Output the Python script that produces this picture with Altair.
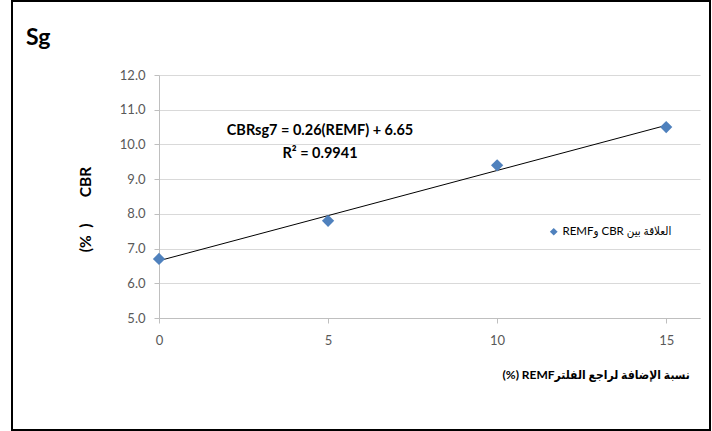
import altair as alt
import pandas as pd

# data
remf = [0, 5, 10, 15]
cbr = [6.7, 7.8, 9.4, 10.5]
series_name = "\u202bالعلاقة بين CBR وREMF\u202c"
y_ticks = [5, 6, 7, 8, 9, 10, 11, 12]
x_ticks = [0, 5, 10, 15]
equation = "CBRsg7 = 0.26(REMF) + 6.65"
r2_text = "R² = 0.9941"
chart_title = "Sg"
x_title = "\u202bنسبة الإضافة لراجع الفلترREMF (%)\u202c"
y_title = "(%\u00a0\u00a0)" + "\u00a0" * 7 + "CBR"

df = pd.DataFrame({"REMF": remf, "CBR": cbr, "series": [series_name] * len(remf)})

FONT = "Lato, DejaVu Sans, sans-serif"
AR_FONT = "Lato, DejaVu Sans Condensed, DejaVu Sans, sans-serif"
W, H = 541, 243

x_scale = alt.Scale(domain=[0, 16], nice=False, zero=False)
y_scale = alt.Scale(domain=[5, 12], nice=False, zero=False)

x_enc = alt.X(
    "REMF:Q",
    scale=x_scale,
    axis=alt.Axis(
        values=x_ticks, grid=False, title=x_title, tickSize=5, labelPadding=11,
        labelFlush=False, labelOverlap=False,
        titleX=343, titleY=56, titleAlign="left", titleBaseline="middle",
        titleAnchor="start", titleFontSize=12, titleFontWeight="bold",
        titleColor="#000000", titleFont=AR_FONT,
    ),
)
y_enc = alt.Y(
    "CBR:Q",
    scale=y_scale,
    axis=alt.Axis(
        values=y_ticks, format=".1f", grid=True, title=y_title, tickSize=5,
        labelPadding=9, labelFlush=False, labelOverlap=False,
        titleX=-74, titleY=134, titleAlign="center",
        titleBaseline="middle", titleAngle=270, titleFontSize=15.5,
        titleFontWeight="bold", titleColor="#000000", titleFont=FONT,
    ),
)

points = alt.Chart(df).mark_point(shape="diamond", filled=True, size=150, opacity=1).encode(
    x=x_enc,
    y=y_enc,
    color=alt.Color(
        "series:N",
        scale=alt.Scale(range=["#4F81BD"]),
        legend=alt.Legend(
            title=None, orient="none", legendX=389, legendY=151, symbolType="diamond",
            symbolSize=60, labelFontSize=11.5, labelFont=AR_FONT, labelColor="#000000",
            padding=0, labelOffset=3, symbolStrokeWidth=0,
        ),
    ),
)

trend = (
    alt.Chart(df)
    .transform_regression("REMF", "CBR", extent=[0, 15])
    .mark_line(color="#000000", strokeWidth=1)
    .encode(x=x_enc, y=y_enc)
)

eq1 = alt.Chart(pd.DataFrame({"t": [equation]})).mark_text(
    fontSize=14.5, fontWeight="bold", font=FONT, align="center", baseline="middle", color="#000000"
).encode(text="t:N", x=alt.value(161), y=alt.value(56))
eq2 = alt.Chart(pd.DataFrame({"t": [r2_text]})).mark_text(
    fontSize=14.5, fontWeight="bold", font=FONT, align="center", baseline="middle", color="#000000"
).encode(text="t:N", x=alt.value(161), y=alt.value(79))
ttl = alt.Chart(pd.DataFrame({"t": [chart_title]})).mark_text(
    fontSize=23, fontWeight="bold", font=FONT, align="left", baseline="alphabetic", color="#000000"
).encode(text="t:N", x=alt.value(-133), y=alt.value(-30))

frame = alt.Chart(pd.DataFrame({"a": [0]})).mark_rect(
    fill=None, stroke="#000000", strokeWidth=2
).encode(x=alt.value(-147), x2=alt.value(551), y=alt.value(-74), y2=alt.value(355))

chart = (
    alt.layer(frame, trend, points, eq1, eq2, ttl)
    .resolve_scale(x="shared", y="shared")
    .properties(
        width=W, height=H,
        padding={"left": 159, "top": 75, "right": 12, "bottom": 113},
        autosize=alt.AutoSizeParams(type="none"),
        background="#ffffff",
    )
    .configure_view(stroke=None)
    .configure_axis(
        labelFont=FONT, labelFontSize=13, labelColor="#595959",
        domainColor="#bfbfbf", tickColor="#bfbfbf", gridColor="#d9d9d9",
        domainWidth=1, tickWidth=1, gridWidth=1,
    )
)

chart.save("out.html", embed_options={"renderer": "svg", "actions": False})
